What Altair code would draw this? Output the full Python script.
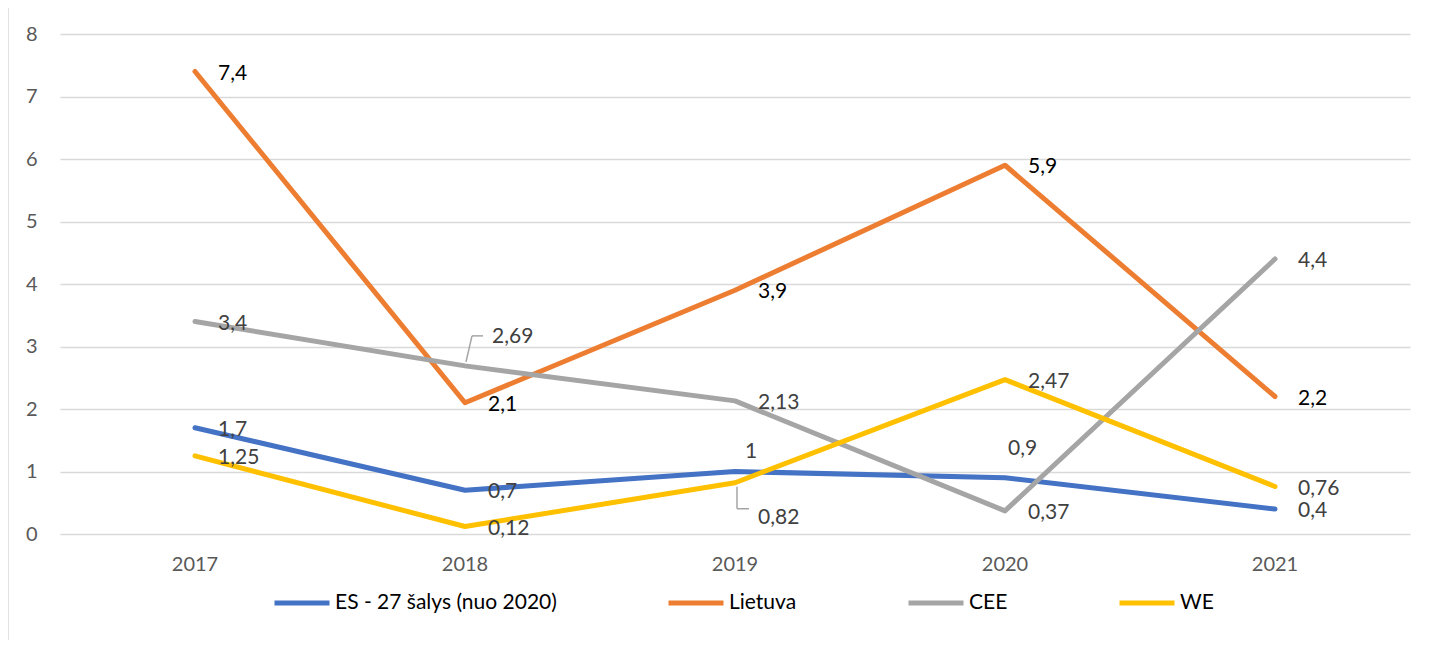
import altair as alt
import pandas as pd

years = ["2017", "2018", "2019", "2020", "2021"]
series_names = ["ES - 27 šalys (nuo 2020)", "Lietuva", "CEE", "WE"]
es_values = [1.7, 0.7, 1.0, 0.9, 0.4]
lt_values = [7.4, 2.1, 3.9, 5.9, 2.2]
cee_values = [3.4, 2.69, 2.13, 0.37, 4.4]
we_values = [1.25, 0.12, 0.82, 2.47, 0.76]
colors = ["#4472C4", "#ED7D31", "#A5A5A5", "#FFC000"]

FONT = "Lato"


def fmt(v):
    s = ("%g" % v)
    return s.replace(".", ",")


rows = []
for name, vals in zip(series_names, [es_values, lt_values, cee_values, we_values]):
    for y, v in zip(years, vals):
        rows.append({"year": y, "series": name, "value": v, "label": fmt(v)})
df = pd.DataFrame(rows)

base = alt.Chart(df)
x_enc = alt.X("year:O", title=None,
              axis=alt.Axis(labelAngle=0, labelFont=FONT, labelFontSize=20,
                            labelColor="#595959", labelPadding=20, ticks=False,
                            domain=False, grid=False))
y_enc = alt.Y("value:Q", title=None,
              scale=alt.Scale(domain=[0, 8], nice=False),
              axis=alt.Axis(values=list(range(0, 9)), format="d", labelFont=FONT,
                            labelFontSize=20, labelColor="#595959", labelPadding=23,
                            ticks=False, domain=False, grid=True, gridColor="#D9D9D9",
                            gridWidth=1.5))

lines = base.mark_line(strokeWidth=5, strokeCap="round", strokeJoin="round").encode(
    x=x_enc,
    y=y_enc,
    color=alt.Color("series:N",
                    scale=alt.Scale(domain=series_names, range=colors),
                    sort=series_names,
                    legend=alt.Legend(title=None, orient="none", direction="horizontal",
                                      legendX=212, legendY=539,
                                      symbolType="stroke", symbolSize=3025,
                                      symbolStrokeWidth=5, labelOffset=3,
                                      columnPadding=101, labelFont=FONT,
                                      labelFontSize=21, labelColor="#000000",
                                      labelLimit=400)),
    detail="series:N",
)

# special label offsets (series, year) -> (dx, dy)
special = {
    ("CEE", "2018"): (27, -29),
    ("WE", "2019"): (23, 35),
    ("ES - 27 šalys (nuo 2020)", "2019"): (10, -20),
    ("ES - 27 šalys (nuo 2020)", "2020"): (3, -29),
}

label_color = alt.condition(alt.datum.series == "Lietuva", alt.value("#000000"),
                            alt.value("#404040"))

not_special = " && ".join(
    "!(datum.series == '%s' && datum.year == '%s')" % (s, y) for (s, y) in special
)

layers = [lines]
layers.append(
    base.transform_filter(not_special).mark_text(
        align="left", baseline="middle", dx=23, dy=2, font=FONT, fontSize=21
    ).encode(x="year:O", y="value:Q", text="label:N", color=label_color)
)
for (s, y), (dx, dy) in special.items():
    layers.append(
        base.transform_filter(
            "datum.series == '%s' && datum.year == '%s'" % (s, y)
        ).mark_text(align="left", baseline="middle", dx=dx, dy=dy, font=FONT, fontSize=21
                    ).encode(x="year:O", y="value:Q", text="label:N", color=label_color)
    )

# leader lines
lead_col = "#A5A5A5"
cee18 = base.transform_filter("datum.series == 'CEE' && datum.year == '2018'")
we19 = base.transform_filter("datum.series == 'WE' && datum.year == '2019'")
rule_enc = dict(x="year:O", x2="year:O", y="value:Q", y2="value:Q")
layers.append(cee18.mark_rule(color=lead_col, strokeWidth=1.5, xOffset=1, yOffset=-4,
                              x2Offset=7, y2Offset=-30).encode(**rule_enc))
layers.append(cee18.mark_rule(color=lead_col, strokeWidth=1.5, xOffset=7, yOffset=-30,
                              x2Offset=18, y2Offset=-30).encode(**rule_enc))
layers.append(we19.mark_rule(color=lead_col, strokeWidth=1.5, xOffset=2, yOffset=4,
                             x2Offset=2, y2Offset=26).encode(**rule_enc))
layers.append(we19.mark_rule(color=lead_col, strokeWidth=1.5, xOffset=2, yOffset=26,
                             x2Offset=14, y2Offset=26).encode(**rule_enc))

# chart area border on the left
layers.append(
    alt.Chart(pd.DataFrame({"a": [0]})).mark_rule(color="#D9D9D9", strokeWidth=1.5).encode(
        x=alt.value(-52), y=alt.value(-34), y2=alt.value(606)
    )
)

chart = alt.layer(*layers).properties(
    width=1350, height=500,
    autosize=alt.AutoSizeParams(type="none"),
    padding={"left": 52, "top": 26, "right": 12, "bottom": 106},
).configure(background="white").configure_view(strokeWidth=0, stroke="transparent")

chart.save("out.html", embed_options={"renderer": "svg", "actions": False})
